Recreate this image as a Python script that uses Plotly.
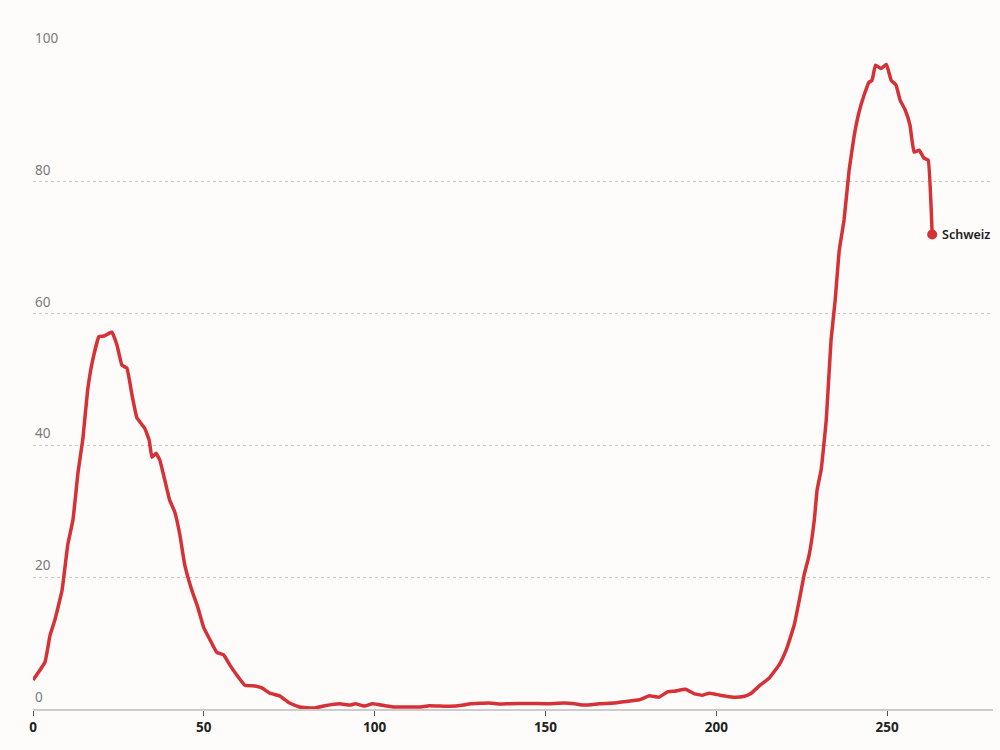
import plotly.graph_objects as go

days = [0, 3.5, 5, 6.4, 8.5, 10.2, 11.7, 13.2, 14.6, 16, 17.5, 19.3, 20.8, 23.1, 24.6, 26, 27.5, 29, 30.4, 32.7,
        34, 34.8, 36, 37.1, 38.6, 40, 41.5, 43, 44.4, 46.5, 48.2, 50, 51.8, 53.8, 55.8, 57.6, 60, 62, 65, 67,
        69.3, 72.2, 75.1, 78, 82.5, 85.4, 89.8, 92.7, 94.4, 97, 99.4, 103, 106, 113, 116, 122, 126, 128, 133.6, 136.5,
        139.5, 145, 150, 155.5, 158.5, 161.4, 165.8, 170, 173, 177.5, 180.4, 183.3, 185.7, 187.7, 191, 193.6, 196, 198, 201, 205,
        208, 210, 212.6, 215.5, 218.4, 220.5, 222.8, 224.3, 225.7, 227.2, 228.7, 229.5, 230.7, 232.2, 233.6, 234.8, 236, 237.4, 238.9, 240.4,
        241.8, 243.3, 244.7, 245.6, 246.6, 248.2, 249.8, 251.2, 252.6, 253.8, 255.3, 256.7, 257.9, 259.4, 260.8, 262, 263.2]
values = [4.4, 7.1, 11.2, 13.5, 18, 25, 28.7, 36, 41, 48.4, 53, 56.5, 56.6, 57.2, 55.2, 52.2, 51.7, 47.6, 44.2, 42.6,
          40.8, 38.2, 38.8, 37.8, 34.7, 31.7, 29.9, 26.4, 21.9, 18, 15.5, 12.3, 10.5, 8.6, 8.2, 6.7, 4.9, 3.6, 3.5, 3.2,
          2.4, 2.0, 0.9, 0.3, 0.15, 0.5, 0.8, 0.6, 0.8, 0.45, 0.8, 0.5, 0.3, 0.3, 0.5, 0.4, 0.6, 0.8, 0.9, 0.75,
          0.8, 0.85, 0.8, 0.9, 0.8, 0.6, 0.8, 0.9, 1.1, 1.4, 2.0, 1.8, 2.6, 2.7, 3.0, 2.3, 2.1, 2.4, 2.1, 1.8,
          1.9, 2.3, 3.5, 4.7, 6.7, 9, 12.7, 16.5, 20.3, 23.4, 28.7, 33.2, 36.3, 43.9, 56, 62, 69.6, 74.2, 81.8, 87.1,
          90.6, 93.2, 95.1, 95.4, 97.7, 97.2, 97.8, 95.4, 94.7, 92.4, 90.9, 88.6, 84.5, 84.8, 83.6, 83.3, 72]
series_name = "Schweiz"
x_ticks = [0, 50, 100, 150, 200, 250]
y_ticks = [0, 20, 40, 60, 80, 100]

RED = "#d63136"
BG = "#fdfcfb"
fig = go.Figure()
fig.add_trace(go.Scatter(x=days, y=values, mode="lines",
                         line=dict(color=RED, width=3.5, shape="spline", smoothing=0.3),
                         hoverinfo="skip", showlegend=False))
fig.add_trace(go.Scatter(x=[days[-1]], y=[values[-1]], mode="markers",
                         marker=dict(color=RED, size=10),
                         hoverinfo="skip", showlegend=False))
fig.add_annotation(x=days[-1], y=values[-1], text=series_name, showarrow=False,
                   xanchor="left", yanchor="middle", xshift=8,
                   font=dict(family="Noto Sans", size=12.5, color="#222", weight=600))

for v in y_ticks:
    fig.add_annotation(xref="paper", x=0, yref="y", y=v, text=str(v), showarrow=False,
                       xanchor="left", yanchor="bottom", yshift=1,
                       font=dict(family="Noto Sans", size=13.5, color="#7a7a7a"))

fig.update_layout(
    width=1000, height=750,
    margin=dict(l=33, r=7, t=50, b=41),
    paper_bgcolor=BG, plot_bgcolor=BG,
    hovermode=False,
    xaxis=dict(range=[0, 281], tickvals=x_ticks, showgrid=False, zeroline=False,
               showline=True, linecolor="#cccccc", linewidth=2,
               ticks="outside", ticklen=5, tickcolor="#555", tickwidth=1,
               tickfont=dict(family="Noto Sans", size=13.5, color="#222", weight="bold")),
    yaxis=dict(range=[0, 100], tickvals=[20, 40, 60, 80, 100], showticklabels=False,
               showgrid=True, gridcolor="#c8c8c8", griddash="dot", gridwidth=1,
               zeroline=False),
)
fig.write_html("out.html", config={"displayModeBar": False},
               post_script="document.body.style.margin='0';document.body.style.background='%s';" % BG)
